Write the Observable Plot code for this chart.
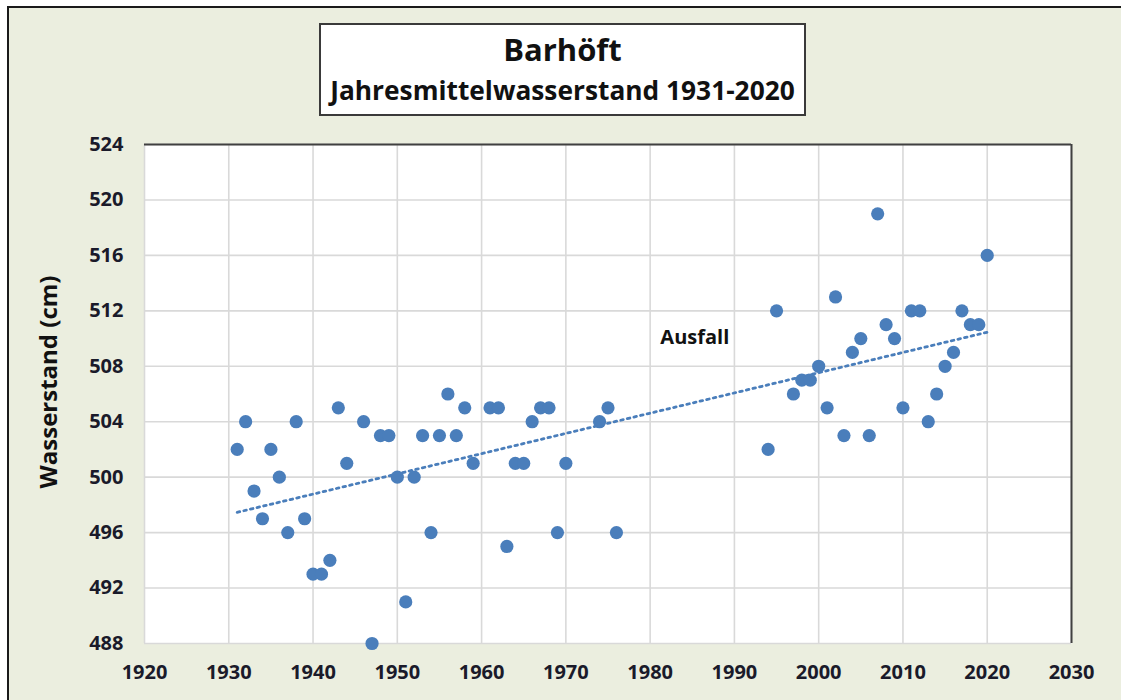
<!DOCTYPE html>
<html>
<head>
<meta charset="utf-8">
<script src="https://cdn.jsdelivr.net/npm/d3@7"></script>
<script src="https://cdn.jsdelivr.net/npm/@observablehq/plot@0.6"></script>
<style>
  html, body { margin: 0; padding: 0; background: #ffffff; overflow: hidden; width: 1121px; height: 700px; }
  body { position: relative; font-family: "Open Sans", sans-serif; }
  #outer { position: absolute; left: 7px; top: 6px; width: 1140px; height: 740px; background: #EBEEDF; border: 2px solid #1a1a1a; box-sizing: border-box; }
  #titlebox { position: absolute; left: 319px; top: 23px; width: 487px; height: 93px; background: #ffffff; border: 2px solid #3a3a3a; box-sizing: border-box; text-align: center; color: #111; font-weight: 700; }
  #t1 { position: absolute; left: 0; right: 0; top: 4px; font-size: 31px; line-height: 40px; }
  #t2 { position: absolute; left: 0; right: 0; top: 48px; font-size: 26.3px; line-height: 34px; }
  #chart { position: absolute; left: 0; top: 120px; }
  #ylab { position: absolute; left: 47px; top: 382px; transform: translate(-50%, -50%) rotate(-90deg); white-space: nowrap; font-size: 24px; font-weight: 700; color: #111; }
</style>
</head>
<body>
<div id="outer"></div>
<div id="titlebox"><div id="t1">Barhöft</div><div id="t2">Jahresmittelwasserstand 1931-2020</div></div>
<div id="chart"></div>
<div id="ylab">Wasserstand (cm)</div>
<script>
const years = [1931,1932,1933,1934,1935,1936,1937,1938,1939,1940,1941,1942,1943,1944,1946,1947,1948,1949,1950,1951,1952,1953,1954,1955,1956,1957,1958,1959,1961,1962,1963,1964,1965,1966,1967,1968,1969,1970,1974,1975,1976,1994,1995,1997,1998,1999,2000,2001,2002,2003,2004,2005,2006,2007,2008,2009,2010,2011,2012,2013,2014,2015,2016,2017,2018,2019,2020];
const levels = [502,504,499,497,502,500,496,504,497,493,493,494,505,501,504,488,503,503,500,491,500,503,496,503,506,503,505,501,505,505,495,501,501,504,505,505,496,501,504,505,496,502,512,506,507,507,508,505,513,503,509,510,503,519,511,510,505,512,512,504,506,508,509,512,511,511,516];
const xTicks = [1920,1930,1940,1950,1960,1970,1980,1990,2000,2010,2020,2030];
const yTicks = [488,492,496,500,504,508,512,516,520,524];
const noteText = ["Ausfall"];
const noteYear = [1985.3];
const noteLevel = [510.1];

const data = years.map((y, i) => ({year: y, level: levels[i]}));
const notes = noteText.map((t, i) => ({text: t, year: noteYear[i], level: noteLevel[i]}));

const blue = "#4A7EBB";
const plot = Plot.plot({
  width: 1121,
  height: 580,
  marginLeft: 144,
  marginRight: 50,
  marginTop: 24,
  marginBottom: 57,
  style: {background: "transparent", fontFamily: "Open Sans, sans-serif"},
  x: {domain: [1920, 2030], ticks: xTicks, tickFormat: d => String(d), label: null},
  y: {domain: [488, 524], ticks: yTicks, label: null},
  marks: [
    Plot.frame({fill: "white", stroke: "none"}),
    Plot.gridX(xTicks, {stroke: "#d9d9d9", strokeOpacity: 1, strokeWidth: 1.6}),
    Plot.gridY(yTicks, {stroke: "#d9d9d9", strokeOpacity: 1, strokeWidth: 1.6}),
    Plot.ruleY([yTicks[yTicks.length - 1]], {stroke: "#404040", strokeWidth: 2}),
    Plot.ruleX([xTicks[xTicks.length - 1]], {stroke: "#404040", strokeWidth: 2}),
    Plot.axisX(xTicks, {tickSize: 0, tickPadding: 21, fontSize: 20, fontWeight: 700, fill: "#1a1a2a", label: null, tickFormat: d => String(d)}),
    Plot.axisY(yTicks, {tickSize: 0, tickPadding: 21, fontSize: 20, fontWeight: 700, fill: "#1a1a2a", label: null}),
    Plot.linearRegressionY(data, {x: "year", y: "level", stroke: blue, strokeWidth: 2.8, strokeDasharray: "2.6,4.2", ci: 0}),
    Plot.dot(data, {x: "year", y: "level", r: 6.6, fill: blue, stroke: "none"}),
    Plot.text(notes, {x: "year", y: "level", text: "text", fontSize: 20, fontWeight: 700, fill: "#111"})
  ]
});
document.getElementById("chart").appendChild(plot);
</script>
</body>
</html>
